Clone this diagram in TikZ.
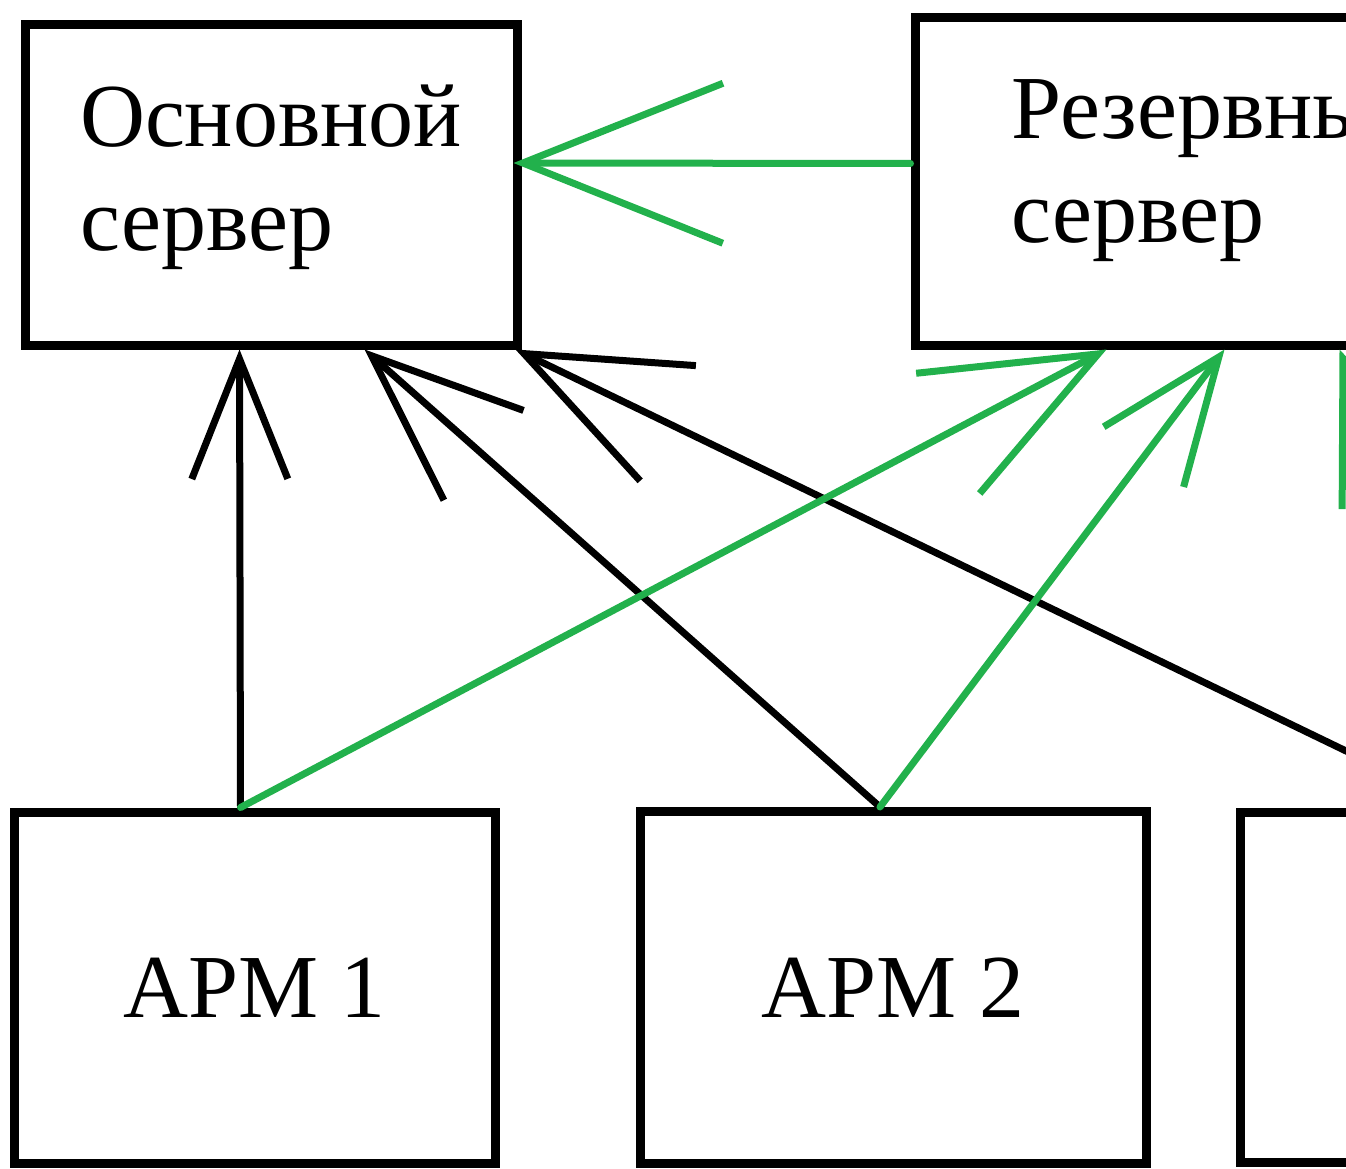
\documentclass[tikz,border=0pt]{standalone}
\usepackage{fontspec}
\setmainfont{Liberation Serif}
\usepackage{xcolor}
\usetikzlibrary{positioning, arrows.meta}
\definecolor{paintgreen}{RGB}{34,177,76}

\tikzset{
	pcbox/.style={draw, rectangle, line width=9pt, inner sep=0pt, align=left, font=\fontsize{90}{104}\selectfont},
	blk/.style={draw=black, line width=7pt, line cap=round},
	grn/.style={draw=paintgreen, line width=7pt, line cap=round},
	hd/.style={-{Straight Barb[length=#1,width'=0pt 0.8]}}
}

\begin{document}
\begin{tikzpicture}[x=1pt, y=-1pt]
		\useasboundingbox (0,0) rectangle (1346,1169);
		\clip (0,0) rectangle (1346,1169);
		
		\node[pcbox, minimum width=492pt, minimum height=320pt, text depth=34pt] (osn) at (271,185) {Основной\\сервер};
		\node[pcbox, minimum width=603pt, minimum height=327pt, text depth=44pt, right = 389pt of osn, yshift=3.5pt] (rez) {Резервный\\сервер};
		
		\node[pcbox, minimum width=481pt, minimum height=351pt] (apm1) at (254.5,987.5) {АРМ 1};
		\node[pcbox, minimum width=506pt, minimum height=352pt, right = 136pt of apm1] (apm2) {АРМ 2};
		\node[pcbox, minimum width=506pt, minimum height=350pt, right = 85pt of apm2] (apm3) {};
		
		%liaisons vers le serveur principal
		\draw[blk, hd=120pt] ([xshift=-14pt]apm1.north) -- ([xshift=219pt]osn.south west);
		\draw[blk, hd=150pt] ([xshift=-13pt]apm2.north) -- ([xshift=344pt]osn.south west);
		\draw[blk, hd=160pt] ([xshift=-29pt]apm3.north) -- ([xshift=-6pt]osn.south east);
		
		%liaisons vers le serveur de reserve
		\draw[grn, hd=200pt] ([yshift=18pt]rez.west) -- ([xshift=-8pt,yshift=22pt]osn.east);
		\draw[grn, hd=170pt] ([xshift=-14pt]apm1.north) -- ([xshift=196pt]rez.south west);
		\draw[grn, hd=125pt] ([xshift=-13pt]apm2.north) -- ([xshift=314pt]rez.south west);
		\draw[grn, hd=140pt] ([xshift=27pt]apm3.north) -- ([xshift=429pt]rez.south west);

	\end{tikzpicture}
\end{document}
